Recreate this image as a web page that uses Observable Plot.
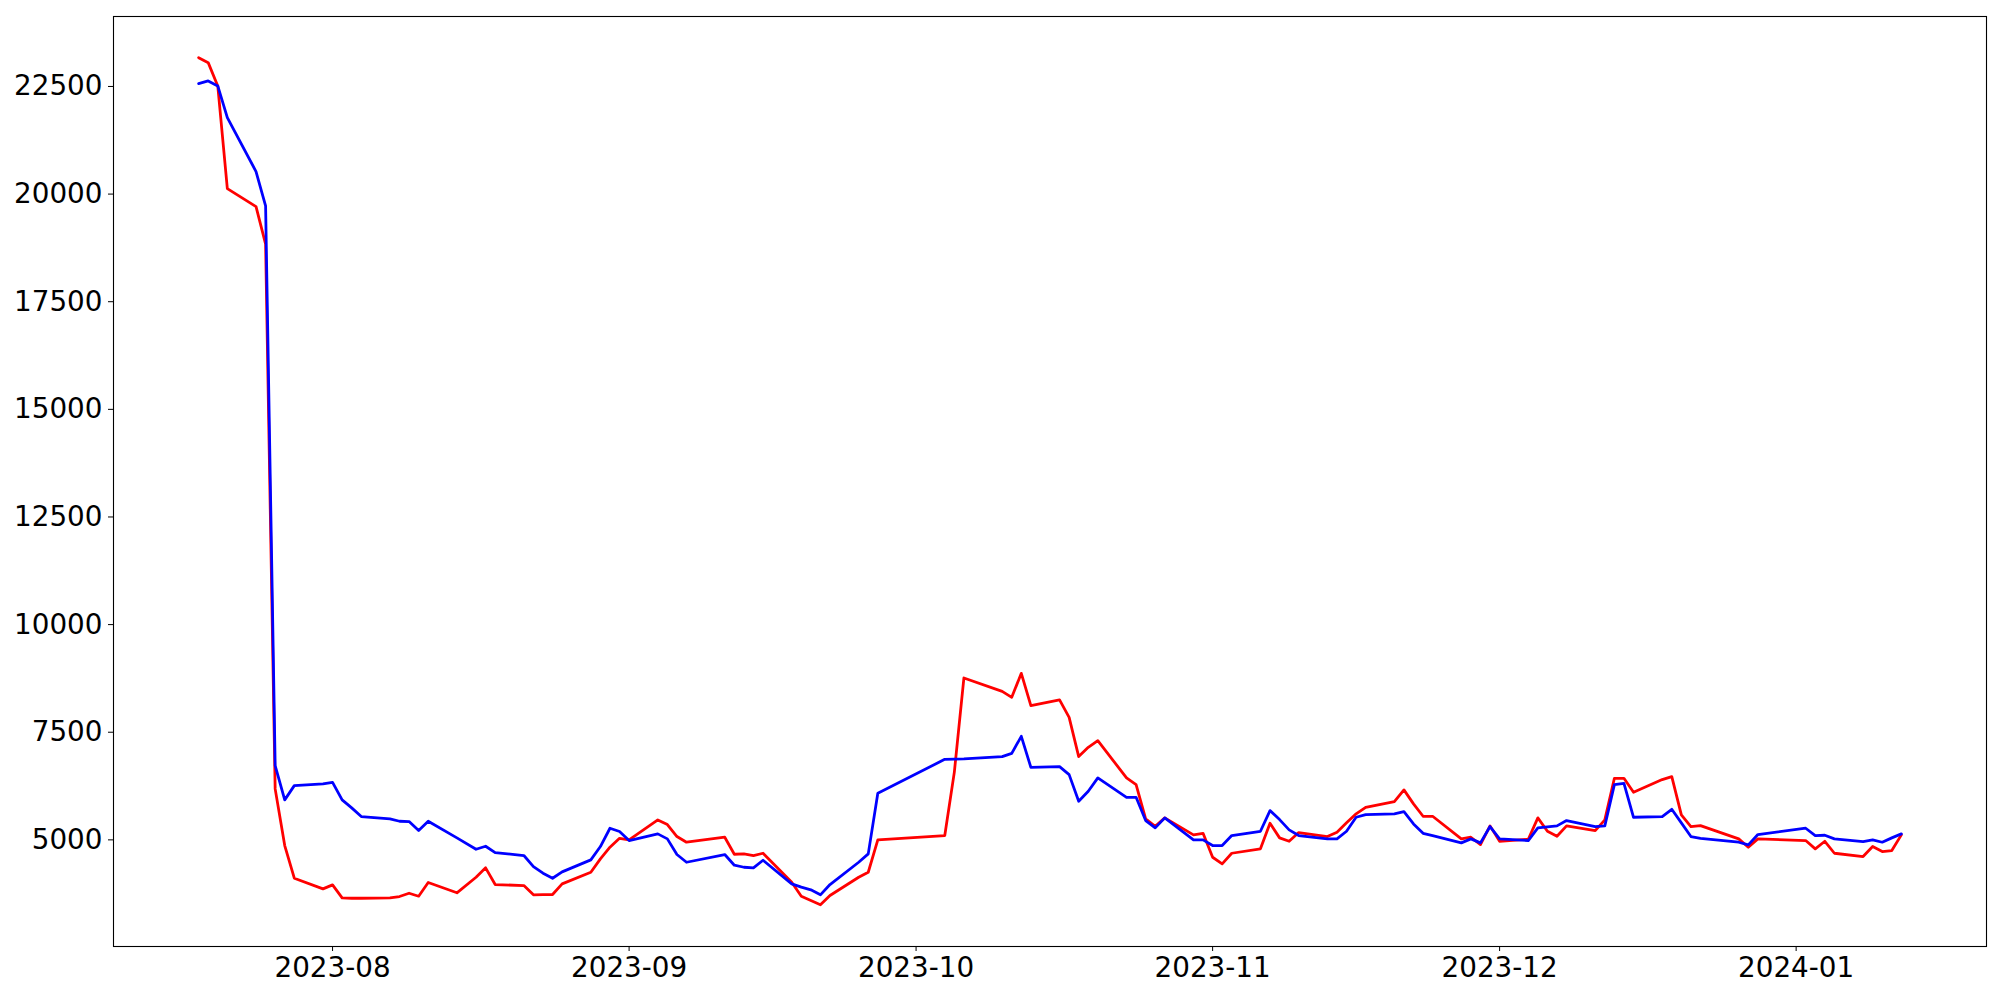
<!DOCTYPE html>
<html><head><meta charset="utf-8">
<script src="https://cdn.jsdelivr.net/npm/d3@7"></script>
<script src="https://cdn.jsdelivr.net/npm/@observablehq/plot@0.6"></script>
<style>html,body{margin:0;padding:0;background:#fff} svg{display:block}</style>
</head><body><div id="chart"></div>
<script>
const dates = [
"2023-07-18","2023-07-19","2023-07-20","2023-07-21","2023-07-24","2023-07-25","2023-07-26","2023-07-27","2023-07-28","2023-07-31",
"2023-08-01","2023-08-02","2023-08-03","2023-08-04","2023-08-07","2023-08-08","2023-08-09","2023-08-10","2023-08-11","2023-08-14","2023-08-16","2023-08-17","2023-08-18","2023-08-21","2023-08-22","2023-08-23","2023-08-24","2023-08-25","2023-08-28","2023-08-29","2023-08-30","2023-08-31",
"2023-09-01","2023-09-04","2023-09-05","2023-09-06","2023-09-07","2023-09-11","2023-09-12","2023-09-13","2023-09-14","2023-09-15","2023-09-18","2023-09-19","2023-09-20","2023-09-21","2023-09-22","2023-09-25","2023-09-26","2023-09-27",
"2023-10-04","2023-10-05","2023-10-06","2023-10-10","2023-10-11","2023-10-12","2023-10-13","2023-10-16","2023-10-17","2023-10-18","2023-10-19","2023-10-20","2023-10-23","2023-10-24","2023-10-25","2023-10-26","2023-10-27","2023-10-30","2023-10-31",
"2023-11-01","2023-11-02","2023-11-03","2023-11-06","2023-11-07","2023-11-08","2023-11-09","2023-11-10","2023-11-13","2023-11-14","2023-11-15","2023-11-16","2023-11-17","2023-11-20","2023-11-21","2023-11-22","2023-11-23","2023-11-24","2023-11-27","2023-11-28","2023-11-29","2023-11-30",
"2023-12-01","2023-12-04","2023-12-05","2023-12-06","2023-12-07","2023-12-08","2023-12-11","2023-12-12","2023-12-13","2023-12-14","2023-12-15","2023-12-18","2023-12-19","2023-12-20","2023-12-21","2023-12-22","2023-12-26","2023-12-27","2023-12-28",
"2024-01-02","2024-01-03","2024-01-04","2024-01-05","2024-01-08","2024-01-09","2024-01-10","2024-01-11","2024-01-12"
];
const redValues = [
23169,23053,22512,20128,19710,18837,6184,4868,4109,3862,
3955,3653,3644,3644,3653,3684,3760,3691,4009,3770,4132,4350,3962,3939,3723,3730,3730,3978,4248,4559,4829,5037,
5000,5464,5355,5077,4945,5061,4666,4674,4636,4689,4016,3691,3591,3491,3707,4132,4248,5000,
5100,6574,8761,8450,8311,8868,8118,8250,7846,6934,7150,7305,6439,6284,5488,5316,5511,5116,5153,
4596,4443,4689,4791,5385,5046,4967,5169,5077,5176,5395,5604,5757,5889,6161,5836,5548,5548,5023,5061,4891,5325,
4967,5014,5511,5200,5084,5325,5216,5464,6430,6430,6105,6400,6470,5580,5309,5332,5023,4829,5023,
4984,4791,4967,4689,4612,4845,4728,4752,5116
];
const blueValues = [
22565,22628,22512,21776,20522,19726,6725,5929,6260,6300,
6337,5929,5743,5541,5488,5432,5425,5216,5432,5046,4782,4852,4705,4636,4380,4226,4109,4257,4535,4845,5270,5193,
4984,5139,5023,4659,4480,4659,4411,4364,4349,4527,3978,3901,3839,3723,3962,4480,4675,6082,
6871,6876,6883,6934,7010,7405,6685,6702,6516,5896,6128,6439,5989,5989,5448,5279,5511,5000,5000,
4868,4868,5100,5200,5680,5471,5232,5100,5023,5023,5200,5525,5587,5604,5657,5371,5153,5100,4930,5023,4930,5309,
5023,4984,5279,5302,5325,5448,5309,5325,6284,6314,5525,5541,5710,5395,5077,5037,4945,4884,5123,
5270,5100,5107,5023,4960,5000,4945,5046,5139
];
const yTicks = [5000, 7500, 10000, 12500, 15000, 17500, 20000, 22500];
const xTicks = ["2023-08-01","2023-09-01","2023-10-01","2023-11-01","2023-12-01","2024-01-01"];

const parse = d3.utcParse("%Y-%m-%d");
const rows = dates.map((d, i) => ({date: parse(d), red: redValues[i], blue: blueValues[i]}));
const tickDates = xTicks.map(parse);

const chart = Plot.plot({
  width: 2000,
  height: 1000,
  marginLeft: 113,
  marginRight: 14,
  marginTop: 16,
  marginBottom: 54,
  style: {fontFamily: "'DejaVu Sans', sans-serif", fontSize: "27.8px", background: "white", color: "black"},
  x: {type: "utc", domain: [new Date(Date.UTC(2023, 6, 9, 2, 24)), new Date(Date.UTC(2024, 0, 20, 21, 36))]},
  y: {domain: [2523, 24125]},
  marks: [
    Plot.lineY(rows, {x: "date", y: "red", stroke: "#ff0000", strokeWidth: 2.78, strokeLinejoin: "round"}),
    Plot.lineY(rows, {x: "date", y: "blue", stroke: "#0000ff", strokeWidth: 2.78, strokeLinejoin: "round"}),
    Plot.frame({stroke: "black", strokeWidth: 1.1}),
    Plot.axisX({ticks: tickDates, tickFormat: d3.utcFormat("%Y-%m"), tickSize: 5, tickPadding: 6, label: null, stroke: "black", fill: "black"}),
    Plot.axisY({ticks: yTicks, tickFormat: d => String(d), tickSize: 5, tickPadding: 6, label: null, stroke: "black", fill: "black"})
  ]
});
document.getElementById("chart").appendChild(chart);
</script>
</body></html>
